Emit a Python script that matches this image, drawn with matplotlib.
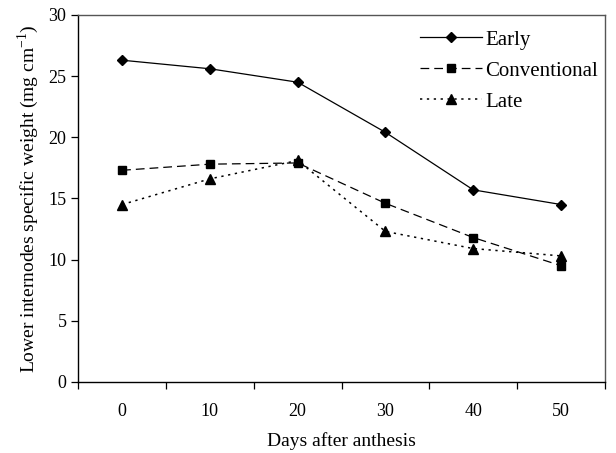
import numpy as np
import matplotlib
matplotlib.use('Agg')
import matplotlib.pyplot as plt

plt.rcParams['font.family'] = ['Liberation Serif', 'DejaVu Serif']
plt.rcParams['mathtext.fontset'] = 'custom'
plt.rcParams['mathtext.rm'] = 'Liberation Serif'

# data
days = ['0', '10', '20', '30', '40', '50']
early = [26.3, 25.6, 24.5, 20.4, 15.7, 14.5]
conventional = [17.3, 17.8, 17.9, 14.6, 11.8, 9.5]
late = [14.5, 16.6, 18.1, 12.3, 10.9, 10.3]

fig = plt.figure(figsize=(6.16, 4.53), dpi=100)
ax = fig.add_axes([0.127, 0.157, 0.855, 0.810])

x = np.arange(len(days))
ax.plot(x, early, '-', color='black', lw=0.9, marker='D', ms=5, label='Early')
ax.plot(x, conventional, color='black', lw=0.9, ls=(0, (7, 4)), marker='s', ms=6,
        label='Conventional')
ax.plot(x, late, color='black', lw=1.1, ls=(0, (1.5, 3)), marker='^', ms=7, label='Late')

ax.set_xlim(-0.5, len(days) - 0.5)
ax.set_ylim(0, 30)
ax.set_yticks(range(0, 31, 5))
ax.set_xticks(x)
ax.set_xticklabels(days)
ax.set_xticks(np.arange(-0.5, len(days), 1), minor=True)
ax.tick_params(axis='x', which='major', length=0, pad=15, labelsize=13)
ax.tick_params(axis='x', which='minor', length=5, direction='out', width=0.9)
ax.tick_params(axis='y', length=5, direction='out', width=0.9, labelsize=13)

for s in ['left', 'bottom']:
    ax.spines[s].set_linewidth(1.0)
for s in ['top', 'right']:
    ax.spines[s].set_color('#555555')
    ax.spines[s].set_linewidth(1.0)

ax.set_xlabel('Days after anthesis', fontsize=14, labelpad=9)
ax.set_ylabel('Lower internodes specific weight (mg cm$^{-1}$)', fontsize=14, labelpad=5)

ax.legend(loc='upper right', bbox_to_anchor=(1.023, 1.01), frameon=False, fontsize=15,
          handlelength=3.0, handletextpad=0.15, labelspacing=0.55)

fig.savefig('out.png', dpi=100)
